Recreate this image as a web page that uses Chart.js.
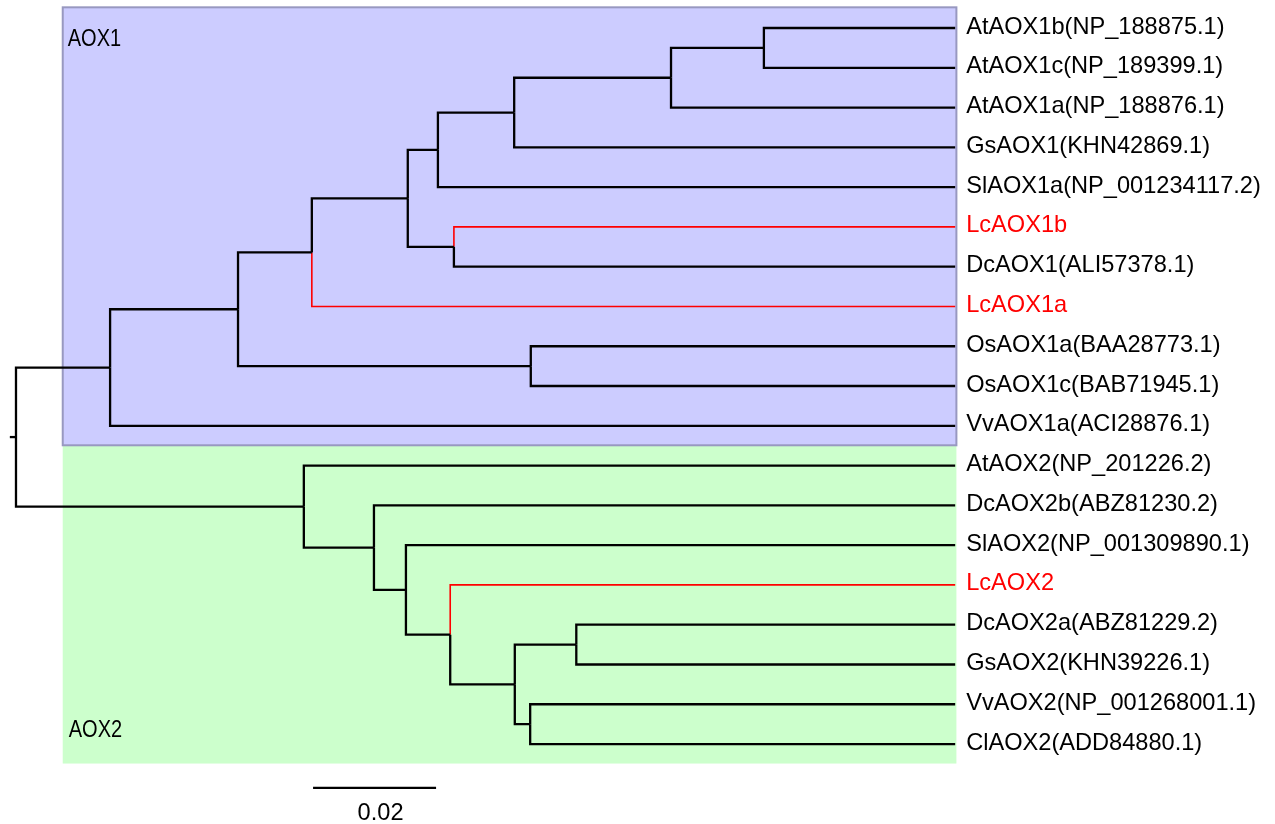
<!DOCTYPE html>
<html>
<head>
<meta charset="utf-8">
<title>AOX phylogenetic tree</title>
<script src="https://cdn.jsdelivr.net/npm/chart.js@4.4.1/dist/chart.umd.min.js"></script>
<style>
  html, body { margin: 0; padding: 0; background: #fff; overflow: hidden; }
  #tree { display: block; }
</style>
</head>
<body>
<canvas id="tree" width="1275" height="824"></canvas>
<script>
// leaves, top to bottom
const leafNames = [
  "AtAOX1b(NP_188875.1)", "AtAOX1c(NP_189399.1)", "AtAOX1a(NP_188876.1)",
  "GsAOX1(KHN42869.1)", "SlAOX1a(NP_001234117.2)", "LcAOX1b",
  "DcAOX1(ALI57378.1)", "LcAOX1a", "OsAOX1a(BAA28773.1)",
  "OsAOX1c(BAB71945.1)", "VvAOX1a(ACI28876.1)", "AtAOX2(NP_201226.2)",
  "DcAOX2b(ABZ81230.2)", "SlAOX2(NP_001309890.1)", "LcAOX2",
  "DcAOX2a(ABZ81229.2)", "GsAOX2(KHN39226.1)", "VvAOX2(NP_001268001.1)",
  "ClAOX2(ADD84880.1)"
];
const highlighted = ["LcAOX1b", "LcAOX1a", "LcAOX2"];
const leafDepth = 0.1527;

// internal nodes: depth from root (substitutions / site) and two children
const nodeNames = ["root", "A", "B", "C", "D", "E", "G", "H", "I", "F", "Os",
  "J", "K", "L", "M", "N", "O", "P"];
const nodeDepths = [0, 0.0153, 0.0361, 0.0481, 0.0637, 0.0686, 0.0810, 0.1065,
  0.1216, 0.0712, 0.0837, 0.0468, 0.0582, 0.0634, 0.0706, 0.0811, 0.0911, 0.0836];
const nodeChildren = [
  ["A", "J"],
  ["B", "VvAOX1a(ACI28876.1)"],
  ["C", "Os"],
  ["D", "LcAOX1a"],
  ["E", "F"],
  ["G", "SlAOX1a(NP_001234117.2)"],
  ["H", "GsAOX1(KHN42869.1)"],
  ["I", "AtAOX1a(NP_188876.1)"],
  ["AtAOX1b(NP_188875.1)", "AtAOX1c(NP_189399.1)"],
  ["LcAOX1b", "DcAOX1(ALI57378.1)"],
  ["OsAOX1a(BAA28773.1)", "OsAOX1c(BAB71945.1)"],
  ["AtAOX2(NP_201226.2)", "K"],
  ["DcAOX2b(ABZ81230.2)", "L"],
  ["SlAOX2(NP_001309890.1)", "M"],
  ["LcAOX2", "N"],
  ["O", "P"],
  ["DcAOX2a(ABZ81229.2)", "GsAOX2(KHN39226.1)"],
  ["VvAOX2(NP_001268001.1)", "ClAOX2(ADD84880.1)"]
];
const rootStub = -0.001;

// shaded clades
const cladeNames = ["AOX1", "AOX2"];
const cladeFirst = ["AtAOX1b(NP_188875.1)", "AtAOX2(NP_201226.2)"];
const cladeLast = ["VvAOX1a(ACI28876.1)", "ClAOX2(ADD84880.1)"];

const scaleBarLength = 0.02;
const scaleBarStart = 0.0483;

// --- layout of the tree from the data ---
function depthOf(name) {
  const i = nodeNames.indexOf(name);
  return i >= 0 ? nodeDepths[i] : leafDepth;
}
function rowOf(name) {
  const li = leafNames.indexOf(name);
  if (li >= 0) return li;
  const kids = nodeChildren[nodeNames.indexOf(name)];
  return (rowOf(kids[0]) + rowOf(kids[1])) / 2;
}

const blackSets = [];
const redSets = [];
nodeNames.forEach((n, i) => {
  const py = rowOf(n);
  nodeChildren[i].forEach((c) => {
    const red = highlighted.includes(c);
    const ds = {
      data: [
        { x: nodeDepths[i], y: py },
        { x: nodeDepths[i], y: rowOf(c) },
        { x: depthOf(c), y: rowOf(c) }
      ],
      showLine: true,
      borderColor: red ? "#ff0000" : "#000000",
      borderWidth: red ? 1.6 : 2.3,
      borderJoinStyle: "miter",
      pointRadius: 0,
      fill: false
    };
    (red ? redSets : blackSets).push(ds);
  });
});
const rootY = rowOf("root");
blackSets.push({
  data: [{ x: rootStub, y: rootY }, { x: 0, y: rootY }],
  showLine: true, borderColor: "#000", borderWidth: 2.3, pointRadius: 0
});
blackSets.push({
  data: [{ x: scaleBarStart, y: 19.1 }, { x: scaleBarStart + scaleBarLength, y: 19.1 }],
  showLine: true, borderColor: "#000", borderWidth: 2.3, pointRadius: 0
});

const FONT = "Liberation Sans, Arial, sans-serif";

const cladeBoxes = {
  id: "cladeBoxes",
  beforeDatasetsDraw(chart) {
    const { ctx, scales: { x, y } } = chart;
    const left = x.getPixelForValue(0.0076);
    const right = x.getPixelForValue(leafDepth + 0.0002);
    const fills = ["#ccccff", "#ccffcc"];
    ctx.save();
    for (let k = cladeNames.length - 1; k >= 0; k--) {
      const top = y.getPixelForValue(leafNames.indexOf(cladeFirst[k]) - 0.52);
      const bot = y.getPixelForValue(leafNames.indexOf(cladeLast[k]) + 0.49);
      ctx.fillStyle = fills[k];
      ctx.fillRect(left, top, right - left, bot - top);
      if (k === 0) {
        ctx.strokeStyle = "#9898c0";
        ctx.lineWidth = 2;
        ctx.strokeRect(left, top, right - left, bot - top);
      }
    }
    ctx.fillStyle = "#000";
    ctx.font = "23px " + FONT;
    ctx.textBaseline = "middle";
    ctx.textAlign = "left";
    // clade labels are set in a narrow face in the original
    const spots = [[left + 5, y.getPixelForValue(0.3)], [left + 6, y.getPixelForValue(17.66)]];
    cladeNames.forEach((name, k) => {
      ctx.save();
      ctx.translate(spots[k][0], spots[k][1]);
      ctx.scale(0.87, 1);
      ctx.fillText(name, 0, 0);
      ctx.restore();
    });
    ctx.restore();
  }
};

const treeLabels = {
  id: "treeLabels",
  afterDatasetsDraw(chart) {
    const { ctx, scales: { x, y } } = chart;
    ctx.save();
    ctx.font = "23.6px " + FONT;
    ctx.textBaseline = "middle";
    ctx.textAlign = "left";
    const lx = x.getPixelForValue(leafDepth) + 11;
    leafNames.forEach((name, i) => {
      ctx.fillStyle = highlighted.includes(name) ? "#ff0000" : "#000000";
      ctx.fillText(name, lx, y.getPixelForValue(i) - 1);
    });
    ctx.fillStyle = "#000";
    ctx.textAlign = "center";
    ctx.fillText(String(scaleBarLength), x.getPixelForValue(scaleBarStart + scaleBarLength / 2) + 6,
      y.getPixelForValue(19.74));
    ctx.restore();
  }
};

new Chart(document.getElementById("tree"), {
  type: "scatter",
  data: { datasets: blackSets.concat(redSets) },
  options: {
    responsive: false,
    animation: false,
    events: [],
    layout: { padding: 0 },
    plugins: { legend: { display: false }, tooltip: { enabled: false } },
    scales: {
      x: { type: "linear", display: false, min: -0.0026, max: 0.2047 },
      y: { type: "linear", display: false, reverse: true, min: -0.704, max: 20.01 }
    }
  },
  plugins: [cladeBoxes, treeLabels]
});
</script>
</body>
</html>
